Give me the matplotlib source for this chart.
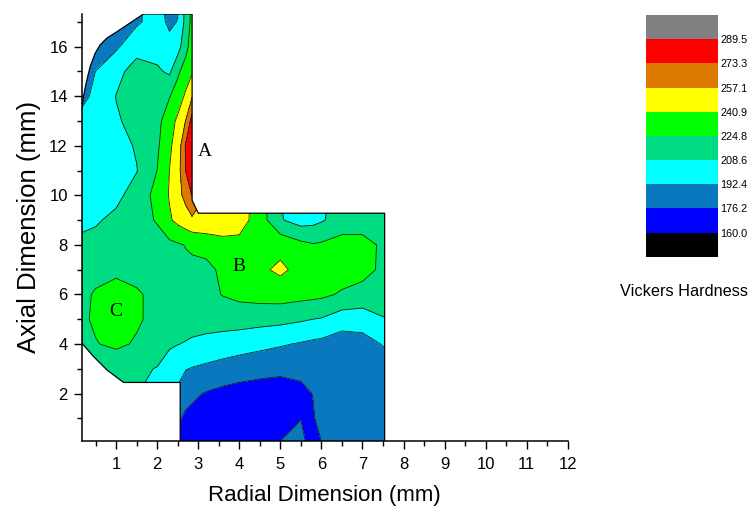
import numpy as np
import matplotlib
matplotlib.use('Agg')
import matplotlib.pyplot as plt
from matplotlib.colors import ListedColormap, BoundaryNorm
from matplotlib.patches import Polygon

plt.rcParams['font.family'] = ['Liberation Sans', 'DejaVu Sans']

# ---------------- data (Vickers hardness) ----------------
radial_mm = [0.15, 0.5, 1.0, 1.5, 2.0, 2.3, 2.5, 2.7, 2.85, 3.2, 3.6, 4.0,
             4.5, 5.0, 5.5, 5.8, 6.0, 6.5, 7.0, 7.55]
axial_mm = [0, 1, 2, 3, 4, 5, 6, 7, 8, 9, 10, 11, 12, 13, 14, 15, 16, 17, 17.5]

hv_y00 = [214, 213, 212, 210, 195, 185, 175, 170, 168, 166, 165, 164, 166, 176.8, 179, 172, 176, 183, 184, 185]
hv_y01 = [214, 213, 212, 210, 194, 188, 178, 174, 172, 168, 166, 165, 165, 169, 176, 175.5, 179, 183, 184, 185]
hv_y02 = [214, 213, 212, 210, 193.5, 191, 190.5, 180, 179, 175, 172, 170.5, 170, 170, 173.5, 176.5, 178, 181, 183, 185]
hv_y03 = [214, 214, 213, 211, 208, 200, 196, 193, 191.5, 189, 186, 183, 180.5, 179, 179, 179.5, 180, 181, 182, 184]
hv_y04 = [218, 224, 228, 223, 215, 211, 209, 207.5, 206, 204, 202, 200, 197, 194, 191, 189, 188, 184, 186, 194]
hv_y05 = [222, 227, 231, 227, 220, 218, 217, 216, 215.5, 215, 215, 215, 214, 213, 210.5, 208.5, 207.5, 200, 200, 208]
hv_y06 = [222, 226, 232, 227, 220, 218, 217, 217, 217, 220, 225.5, 229, 231, 232, 230, 229, 228, 223, 219, 216]
hv_y07 = [218, 221, 221, 219, 218, 219, 220, 221, 221.5, 222, 227, 232, 238, 244, 236, 233, 232, 232, 230, 221]
hv_y08 = [212, 213, 215, 217, 219, 221, 223, 225.5, 227, 228.5, 234, 236, 236, 236, 229, 226, 227, 231, 231, 221]
hv_y09 = [205, 207, 212, 219, 226, 239, 245, 250, 254, 256, 254, 248, 233, 210, 202, 204, 207, 216, 216, 214]
hv_y10 = [197, 199, 205, 215, 230, 242, 252, 262, 274, 256, 256, 250, 232, 208, 198, 201, 204, 216, 216, 214]
hv_y11 = [197, 199, 202, 208, 225, 241, 250, 274, 287] + [287] * 11
hv_y12 = [198, 199, 203, 210, 222, 239, 246, 276, 288] + [288] * 11
hv_y13 = [196, 199, 207, 213, 220, 234, 244, 258, 280] + [280] * 11
hv_y14 = [189, 195, 209, 216, 220, 224, 232, 244, 256] + [256] * 11
hv_y15 = [186, 192.5, 204, 215, 211, 206, 222, 232, 239] + [239] * 11
hv_y16 = [176, 183, 190, 203, 202, 198, 202, 220, 233] + [233] * 11
hv_y17 = [176, 178, 182, 190, 199, 189, 193, 214, 230] + [230] * 11
hv_y175 = [176, 178, 182, 190, 199, 187, 191, 214, 230] + [230] * 11

levels = [160.0, 176.2, 192.4, 208.6, 224.8, 240.9, 257.1, 273.3, 289.5]
band_colors = ['#0000FF', '#0A78BE', '#00FFFF', '#00DC82', '#00FF00',
               '#FFFF00', '#DE7A00', '#FF0000']
under_color = '#000000'
over_color = '#808080'

# specimen outline (mm)
outline_x = [2.56, 7.54, 7.54, 3.0, 2.85, 2.85, 1.667, 1.016, 0.77, 0.61, 0.488,
             0.366, 0.268, 0.203, 0.163, 0.163, 0.447, 0.772, 1.18, 2.56]
outline_y = [0.0, 0.0, 9.28, 9.28, 9.8, 17.32, 17.32, 16.6, 16.34, 16.07, 15.73,
             15.19, 14.52, 13.98, 13.45, 4.04, 3.5, 2.96, 2.45, 2.45]

# ---------------- figure ----------------
fig = plt.figure(figsize=(7.56, 5.12), dpi=100)
ax = fig.add_axes([0.108, 0.1393, 0.643, 0.8334])

X, Y = np.meshgrid(radial_mm, axial_mm)
Z = np.array([hv_y00, hv_y01, hv_y02, hv_y03, hv_y04, hv_y05, hv_y06, hv_y07,
              hv_y08, hv_y09, hv_y10, hv_y11, hv_y12, hv_y13, hv_y14, hv_y15,
              hv_y16, hv_y17, hv_y175])

cmap = ListedColormap(band_colors).with_extremes(under=under_color, over=over_color)
norm = BoundaryNorm(levels, cmap.N)

outline = Polygon(np.column_stack([outline_x, outline_y]), closed=True,
                  facecolor='none', edgecolor='black', lw=0.9, zorder=5)
ax.add_patch(outline)

cf = ax.contourf(X, Y, Z, levels=levels, cmap=cmap, norm=norm, extend='both')
cf.set_clip_path(outline)
cl = ax.contour(X, Y, Z, levels=levels, colors='#202020', linewidths=0.6)
cl.set_clip_path(outline)

serif = ['Liberation Serif', 'DejaVu Serif']
ax.text(3.15, 11.75, 'A', family=serif, fontsize=14, ha='center', va='center')
ax.text(3.98, 7.12, 'B', family=serif, fontsize=14, ha='center', va='center')
ax.text(0.98, 5.3, 'C', family=serif, fontsize=14, ha='center', va='center')

ax.set_xlim(0.16, 12)
ax.set_ylim(0.1, 17.32)
ax.set_xticks(np.arange(1, 13, 1))
ax.set_xticks(np.arange(0.5, 12.01, 0.5), minor=True)
ax.set_yticks(np.arange(2, 17, 2))
ax.set_yticks(np.arange(1, 17.5, 2), minor=True)
for s in ['top', 'right']:
    ax.spines[s].set_visible(False)
for s in ['left', 'bottom']:
    ax.spines[s].set_linewidth(1.1)
ax.tick_params(which='major', length=6, width=1.0, labelsize=12)
ax.tick_params(which='minor', length=3.5, width=1.0)
ax.tick_params(axis='x', which='major', pad=6)
ax.tick_params(axis='y', which='major', pad=4)
ax.set_xlabel('Radial Dimension (mm)', fontsize=16, labelpad=9)
ax.set_ylabel('Axial Dimension (mm)', fontsize=18.5, labelpad=6)

# colour scale
cax = fig.add_axes([0.854, 0.4986, 0.0963, 0.4721])
cb = fig.colorbar(cf, cax=cax, extendrect=True, extendfrac=0.125)
cb.set_ticks(levels)
cb.ax.set_yticklabels([f'{v:.1f}' for v in levels])
cb.ax.tick_params(length=0, labelsize=7.8, pad=1.5)
cb.outline.set_visible(False)
fig.text(684.5 / 756, 1 - 296 / 512, 'Vickers Hardness', ha='center', va='baseline',
         fontsize=11.7)

fig.savefig('out.png', dpi=100)
